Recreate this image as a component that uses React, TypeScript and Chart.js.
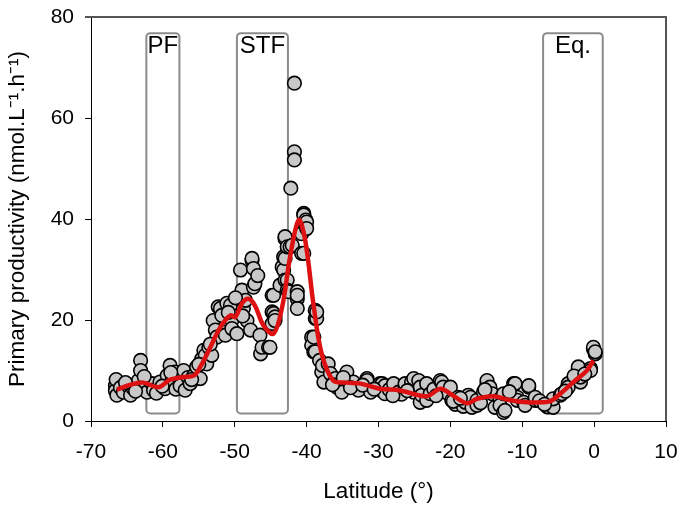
import { useEffect, useRef } from "react";
import { Chart, registerables } from "chart.js";

Chart.register(...registerables);

// Scatter observations (latitude, primary productivity)
const scatterX = [
  -66.6, -66.6, -66.4, -66.5, -65.9, -65.5, -64.8, -64.5, -64.1, -63.4, -63.1, -63.1, -62.9, -62.2, -61.5, -61.3,
  -60.9, -60.4, -59.7, -59.4, -59.0, -58.7, -58.3, -58.2, -57.8, -57.6, -57.1, -56.9, -56.5, -56.2, -55.7, -55.3,
  -54.8, -54.6, -54.3, -54.1, -53.9, -53.6, -53.2, -53.0, -52.7, -52.5, -52.3, -52.0, -51.8, -51.3, -51.3, -51.1,
  -50.6, -50.4, -50.4, -49.7, -49.2, -49.0, -48.8, -48.5, -48.3, -47.8, -47.6, -47.6, -47.4, -47.4, -47.2, -46.5,
  -46.4, -46.2, -45.3, -45.1, -44.8, -44.8, -44.8, -44.6, -44.6, -44.4, -44.4, -43.7, -43.4, -43.2, -43.2, -43.0,
  -43.0, -43.0, -43.0, -42.7, -42.7, -42.7, -42.5, -42.3, -42.2, -42.0, -41.7, -41.7, -41.7, -41.3, -41.3, -41.3,
  -41.3, -40.7, -40.7, -40.7, -40.4, -40.4, -40.4, -40.1, -40.0, -40.0, -39.3, -39.3, -39.0, -39.0, -38.8, -38.8,
  -38.8, -38.6, -38.6, -38.2, -37.9, -37.8, -37.6, -37.0, -36.7, -36.0, -35.8, -35.1, -34.4, -33.5, -32.8, -31.6,
  -31.6, -31.1, -29.8, -29.6, -29.5, -29.1, -29.1, -28.5, -27.9, -27.2, -26.8, -26.3, -26.3, -25.4, -25.1, -25.1,
  -24.4, -24.2, -24.2, -24.0, -23.3, -23.3, -22.8, -22.3, -21.4, -21.2, -21.0, -20.3, -20.0, -19.8, -19.3, -18.9,
  -18.2, -17.9, -17.5, -17.2, -17.0, -16.3, -16.3, -15.8, -15.4, -14.9, -14.9, -14.5, -14.2, -13.8, -13.1, -13.1,
  -12.6, -12.6, -12.4, -11.2, -11.0, -10.7, -10.7, -9.8, -9.6, -9.1, -9.1, -8.2, -8.2, -6.5, -5.9, -5.9,
  -5.7, -5.7, -4.7, -4.5, -3.8, -3.6, -3.6, -2.2, -2.2, -1.9, -1.9, -0.5, -0.5, -0.1, -0.1, 0.15,
  0.15, -65.2, -63.8, -62.6, -60.1, -58.9, -56.0, -55.0, -53.4, -50.9, -49.9, -48.9, -46.8, -36.4, -34.9, -33.9,
  -32.2, -30.6, -28.0, -26.0, -22.0, -19.6, -18.6, -15.2, -11.8, -7.6, -6.9, -4.0, -2.8, -1.3,
];
const scatterY = [
  7.0, 6.0, 5.1, 8.2, 6.6, 5.7, 6.9, 5.1, 6.4, 8.0, 12.0, 10.0, 6.7, 5.7, 7.4, 6.1,
  5.5, 7.7, 6.4, 9.0, 11.0, 8.0, 9.7, 6.3, 8.7, 7.0, 10.0, 6.1, 8.6, 7.4, 9.0, 10.7,
  8.4, 12.3, 14.0, 13.0, 11.3, 14.6, 13.0, 19.9, 18.0, 16.6, 22.6, 22.3, 20.9, 17.6, 17.0, 23.3,
  22.9, 19.9, 18.3, 17.3, 29.9, 25.9, 22.3, 23.9, 19.9, 18.0, 31.8, 32.2, 30.2, 26.5, 27.2, 17.0,
  13.3, 14.6, 14.6, 14.6, 21.6, 19.3, 24.9, 24.9, 21.3, 20.6, 19.9, 26.9, 30.5, 32.5, 29.9, 36.1,
  36.5, 32.2, 27.9, 34.5, 27.9, 25.9, 25.6, 34.5, 46.1, 34.8, 66.9, 53.3, 51.7, 25.6, 24.2, 22.3,
  24.9, 37.5, 33.2, 37.1, 41.1, 40.8, 33.2, 39.8, 39.4, 38.1, 16.6, 15.0, 13.7, 16.6, 21.9, 20.3,
  13.7, 20.3, 21.6, 12.0, 9.7, 11.0, 7.7, 11.3, 9.4, 8.4, 6.7, 5.7, 9.7, 7.7, 6.1, 8.4,
  8.0, 5.7, 7.4, 6.0, 7.4, 7.0, 5.4, 6.2, 7.4, 5.7, 5.3, 6.7, 7.4, 7.7, 8.4, 5.7,
  8.0, 6.7, 3.7, 5.1, 7.4, 4.1, 5.4, 6.3, 8.0, 7.7, 6.7, 5.4, 6.7, 4.1, 3.3, 4.7,
  2.9, 3.7, 5.1, 4.7, 2.7, 4.1, 3.1, 3.6, 5.7, 7.4, 8.0, 6.7, 5.4, 2.7, 4.4, 3.1,
  1.7, 5.4, 2.1, 7.4, 7.4, 4.7, 4.1, 3.7, 3.1, 6.7, 7.0, 4.1, 4.7, 2.8, 3.7, 3.1,
  2.7, 4.4, 5.1, 5.4, 6.4, 7.4, 6.7, 10.4, 10.7, 7.7, 8.7, 10.4, 10.0, 14.3, 14.6, 13.3,
  13.7, 7.6, 5.9, 8.8, 6.9, 9.6, 8.2, 11.2, 15.2, 21.5, 24.4, 20.8, 28.8, 7.2, 8.6, 6.6,
  7.1, 6.3, 5.0, 6.0, 5.0, 3.9, 4.5, 6.2, 5.8, 4.0, 3.3, 5.9, 8.9, 9.3,
];

// Smoothed trend (red curve)
const curveX = [
  -66.4, -64.5, -62.7, -60.6, -59.0, -57.1, -55.7, -54.8, -53.6, -52.0, -50.6, -49.9, -49.0, -48.1, -47.2, -46.0,
  -44.6, -43.4, -42.3, -41.1, -40.2, -39.0, -37.9, -36.3, -34.4, -32.5, -29.8, -27.0, -23.3, -21.4, -20.0, -17.7,
  -16.3, -14.0, -11.7, -9.4, -7.3, -6.1, -4.7, -2.9, -1.0, -0.1,
];
const curveY = [
  6.2, 7.2, 7.6, 6.7, 8.2, 8.7, 9.0, 10.7, 14.0, 18.6, 20.9, 20.6, 23.3, 24.2, 22.9, 18.9,
  17.3, 22.6, 32.5, 39.8, 35.8, 22.6, 13.3, 8.0, 7.6, 7.4, 6.4, 6.05, 4.9, 6.4, 5.4, 3.5,
  4.4, 4.9, 4.1, 3.7, 3.7, 3.9, 5.4, 7.7, 10.0, 12.0,
];

// Frontal zones
const frontLabels = ["PF", "STF", "Eq."];
const frontStart = [-62.3, -49.7, -7.1];
const frontEnd = [-57.7, -42.6, 1.2];
const frontBottom = [1.5, 1.5, 1.5];
const frontTop = [76.8, 76.8, 76.8];

// Axis ticks
const xTicks = [-70, -60, -50, -40, -30, -20, -10, 0, 10];
const yTicks = [0, 20, 40, 60, 80];

const FONT = 'Arial, "Liberation Sans", sans-serif';

const frontsPlugin = {
  id: "fronts",
  beforeDatasetsDraw(chart: any) {
    const { ctx, scales } = chart;
    const xs = scales.x;
    const ys = scales.y;
    ctx.save();
    ctx.strokeStyle = "#8c8c8c";
    ctx.lineWidth = 2;
    for (let i = 0; i < frontLabels.length; i++) {
      const x0 = xs.getPixelForValue(frontStart[i]);
      const x1 = xs.getPixelForValue(frontEnd[i]);
      const y0 = ys.getPixelForValue(frontBottom[i]);
      const y1 = ys.getPixelForValue(frontTop[i]);
      ctx.beginPath();
      ctx.roundRect(x0, y1, x1 - x0, y0 - y1, 4);
      ctx.stroke();
      ctx.fillStyle = "#000";
      ctx.font = `24px ${FONT}`;
      ctx.textAlign = "center";
      ctx.textBaseline = "alphabetic";
      ctx.fillText(frontLabels[i], (x0 + x1) / 2, y1 + 20);
    }
    ctx.restore();
  },
  afterDraw(chart: any) {
    const { ctx, chartArea } = chart;
    ctx.save();
    ctx.strokeStyle = "#555";
    ctx.lineWidth = 2;
    ctx.beginPath();
    ctx.moveTo(chartArea.left - 6, chartArea.top);
    ctx.lineTo(chartArea.right, chartArea.top);
    ctx.lineTo(chartArea.right, chartArea.bottom);
    ctx.stroke();
    ctx.restore();
  },
};

export default function App() {
  const ref = useRef<HTMLCanvasElement | null>(null);

  useEffect(() => {
    if (!ref.current) return;
    const chart = new Chart(ref.current, {
      type: "scatter",
      data: {
        datasets: [
          {
            label: "trend",
            data: curveX.map((x, i) => ({ x, y: curveY[i] })),
            showLine: true,
            borderColor: "#dd1111",
            borderWidth: 4.5,
            pointRadius: 0,
            tension: 0.35,
            order: 0,
          } as any,
          {
            label: "obs",
            data: scatterX.map((x, i) => ({ x, y: scatterY[i] })),
            backgroundColor: "#c8c8c8",
            borderColor: "#000",
            borderWidth: 1.6,
            pointRadius: 6.8,
            order: 1,
          },
        ],
      },
      options: {
        responsive: true,
        maintainAspectRatio: false,
        animation: false,
        devicePixelRatio: 1,
        layout: { padding: { left: 0, top: 17, right: 13, bottom: 0 } },
        plugins: { legend: { display: false }, tooltip: { enabled: false } },
        scales: {
          x: {
            type: "linear",
            min: -70,
            max: 10,
            afterBuildTicks: (s: any) => {
              s.ticks = xTicks.map((v) => ({ value: v }));
            },
            afterFit: (s: any) => {
              s.height = 89;
              s.paddingLeft = 0;
              s.paddingRight = 0;
            },
            ticks: { color: "#000", font: { family: FONT, size: 21 }, padding: 13, maxRotation: 0 },
            grid: { drawOnChartArea: false, drawTicks: true, tickLength: 6, color: "#000" },
            border: { color: "#000", width: 1 },
            title: {
              display: true,
              text: "Latitude (°)",
              color: "#000",
              font: { family: FONT, size: 22.5 },
              padding: { top: 0, bottom: 4.5 },
            },
          },
          y: {
            type: "linear",
            min: 0,
            max: 80,
            afterBuildTicks: (s: any) => {
              s.ticks = yTicks.map((v) => ({ value: v }));
            },
            afterFit: (s: any) => {
              s.width = 91;
              s.paddingTop = 0;
              s.paddingBottom = 0;
            },
            ticks: { color: "#000", font: { family: FONT, size: 21 }, padding: 11 },
            grid: { drawOnChartArea: false, drawTicks: true, tickLength: 6, color: "#000" },
            border: { color: "#000", width: 1 },
            title: {
              display: true,
              text: "Primary productivity (nmol.L⁻¹.h⁻¹)",
              color: "#000",
              font: { family: FONT, size: 22.5 },
              padding: { top: 4.5, bottom: 0 },
            },
          },
        },
      },
      plugins: [frontsPlugin],
    });
    return () => chart.destroy();
  }, []);

  return (
    <div style={{ position: "absolute", left: 0, top: 0, width: 679, height: 510 }}>
      <canvas ref={ref} />
    </div>
  );
}
